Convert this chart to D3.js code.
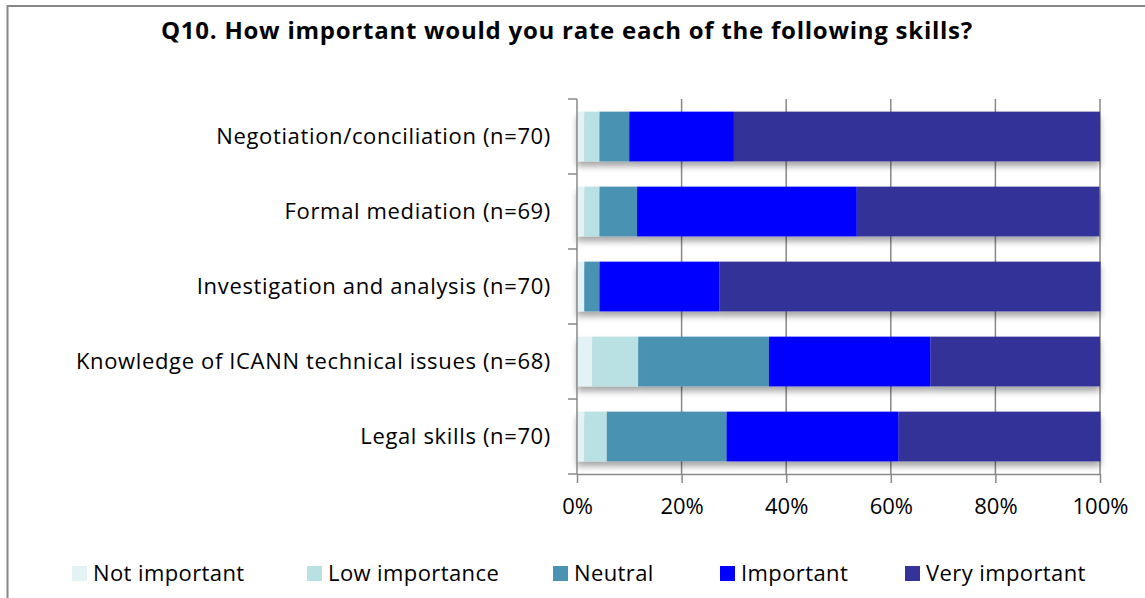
<!DOCTYPE html>
<html>
<head>
<meta charset="utf-8">
<script src="https://cdn.jsdelivr.net/npm/d3@7"></script>
<style>
  body { margin: 0; background: #fff; }
  text { font-family: "Open Sans", Lato, sans-serif; fill: #000; }
</style>
</head>
<body>
<svg width="1145" height="598"></svg>
<script>
// Data (percent of respondents)
const skills = [
    "Negotiation/conciliation (n=70)",
    "Formal mediation (n=69)",
    "Investigation and analysis (n=70)",
    "Knowledge of ICANN technical issues (n=68)",
    "Legal skills (n=70)"
];
const levels = ["Not important", "Low importance", "Neutral", "Important", "Very important"];
const notImportant  = [1.4, 1.4, 1.4, 2.9, 1.4];
const lowImportance = [2.9, 2.9, 0.0, 8.8, 4.3];
const neutral       = [5.7, 7.2, 2.9, 25.0, 22.9];
const important     = [20.0, 42.0, 22.9, 30.9, 32.9];
const veryImportant = [70.0, 46.4, 72.9, 32.4, 38.6];
const xTicks = [0, 20, 40, 60, 80, 100];
const colors = ["#e3f2f4", "#b9e0e3", "#4a92b2", "#0000ff", "#333399"];

const svg = d3.select("svg");
const margin = { top: 99, right: 45, bottom: 124, left: 577 };
const width = 1145, height = 598;

// Build rows for stacking
const rows = skills.map((s, i) => ({
    skill: s,
    "Not important": notImportant[i],
    "Low importance": lowImportance[i],
    "Neutral": neutral[i],
    "Important": important[i],
    "Very important": veryImportant[i]
}));
const series = d3.stack().keys(levels)(rows);

const x = d3.scaleLinear().domain([0, 100]).range([margin.left, width - margin.right]);
const y = d3.scaleBand().domain(skills)
    .range([margin.top, height - margin.bottom])
    .paddingInner(0.337).paddingOuter(0.1685);
const color = d3.scaleOrdinal().domain(levels).range(colors);

// Frame
svg.append("path")
    .attr("d", "M7.5,598 V6 H1145")
    .attr("fill", "none")
    .attr("stroke", "#888")
    .attr("stroke-width", 2);

// Title
svg.append("text")
    .attr("x", 567)
    .attr("y", 39)
    .attr("text-anchor", "middle")
    .attr("font-size", 24)
    .attr("letter-spacing", 0.75)
    .attr("font-weight", "bold")
    .text("Q10. How important would you rate each of the following skills?");

// Shadow filter
const defs = svg.append("defs");
const f = defs.append("filter").attr("id", "shadow")
    .attr("x", "-5%").attr("y", "-20%").attr("width", "110%").attr("height", "160%");
f.append("feDropShadow")
    .attr("dx", 0).attr("dy", 5).attr("stdDeviation", 3)
    .attr("flood-color", "#000").attr("flood-opacity", 0.35);

// Gridlines
const plotBottom = height - margin.bottom;
svg.append("g").selectAll("line")
    .data(xTicks.slice(1))
    .join("line")
    .attr("x1", d => x(d)).attr("x2", d => x(d))
    .attr("y1", margin.top).attr("y2", plotBottom)
    .attr("stroke", "#888").attr("stroke-width", 1.5);

// Bars
const barGroup = svg.append("g").attr("filter", "url(#shadow)");
barGroup.selectAll("g")
    .data(series)
    .join("g")
    .attr("fill", d => color(d.key))
    .selectAll("rect")
    .data(d => d)
    .join("rect")
    .attr("x", d => x(d[0]))
    .attr("y", d => y(d.data.skill))
    .attr("width", d => x(d[1]) - x(d[0]))
    .attr("height", y.bandwidth());

// Y axis (ticks between categories)
const gap = (y.step() - y.bandwidth()) / 2;
const yTickPos = skills.map(s => y(s) - gap).concat([plotBottom]);
const yAxis = svg.append("g");
yAxis.append("line")
    .attr("x1", x(0)).attr("x2", x(0))
    .attr("y1", margin.top).attr("y2", plotBottom)
    .attr("stroke", "#888").attr("stroke-width", 1.5);
yAxis.selectAll(".ytick")
    .data(yTickPos)
    .join("line")
    .attr("class", "ytick")
    .attr("x1", x(0) - 9).attr("x2", x(0))
    .attr("y1", d => d).attr("y2", d => d)
    .attr("stroke", "#888").attr("stroke-width", 1.5);
yAxis.selectAll(".ylabel")
    .data(skills)
    .join("text")
    .attr("class", "ylabel")
    .attr("x", x(0) - 26)
    .attr("y", d => y(d) + y.bandwidth() / 2)
    .attr("dy", "0.35em")
    .attr("text-anchor", "end")
    .attr("font-size", 22)
    .attr("letter-spacing", 0.65)
    .text(d => d);

// X axis
const xAxis = svg.append("g")
    .attr("transform", `translate(0,${plotBottom})`)
    .call(d3.axisBottom(x).tickValues(xTicks).tickFormat(d => d + "%").tickSize(9).tickSizeOuter(0));
xAxis.select(".domain").attr("stroke", "#888").attr("stroke-width", 1.5);
xAxis.selectAll(".tick line").attr("stroke", "#888").attr("stroke-width", 1.5);
xAxis.selectAll(".tick text")
    .attr("y", 24)
    .attr("font-size", 22)
    .attr("font-family", "'Open Sans', Lato, sans-serif")
    .attr("fill", "#000");

// Legend
const legendX = [72, 307, 553, 720, 905];
const legend = svg.append("g").selectAll("g")
    .data(levels)
    .join("g")
    .attr("transform", (d, i) => `translate(${legendX[i]},566)`);
legend.append("rect")
    .attr("width", 15).attr("height", 15)
    .attr("fill", d => color(d));
legend.append("text")
    .attr("x", 21)
    .attr("y", 7.5)
    .attr("dy", "0.35em")
    .attr("font-size", 22)
    .attr("letter-spacing", 0.4)
    .text(d => d);
</script>
</body>
</html>
